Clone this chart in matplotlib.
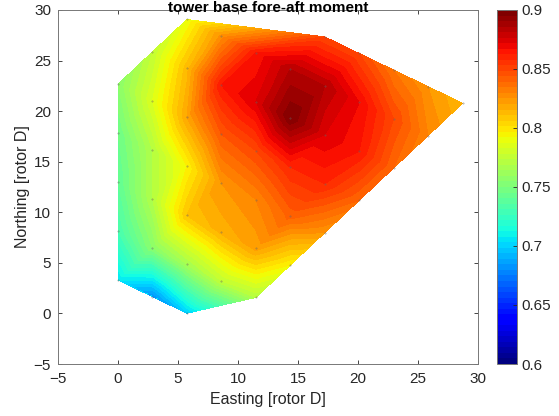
import numpy as np
import matplotlib
matplotlib.use('Agg')
import matplotlib.pyplot as plt
import matplotlib.tri as mtri

plt.rcParams['font.family'] = ['Liberation Sans', 'DejaVu Sans']

# turbine positions (rotor diameters), listed column by column
east = ([0.00] * 5 + [2.87] * 6 + [5.74] * 7 + [8.61] * 6 + [11.48] * 6 +
        [14.35] * 5 + [17.22] * 5 + [20.09] * 4 + [22.96] * 3 + [25.83] * 2 + [28.70])
north = [3.30, 8.14, 12.98, 17.82, 22.66,
         1.66, 6.50, 11.34, 16.18, 21.02, 25.86,
         0.02, 4.86, 9.70, 14.54, 19.38, 24.22, 29.06,
         3.22, 8.06, 12.90, 17.74, 22.58, 27.42,
         1.58, 6.42, 11.26, 16.10, 20.94, 25.78,
         4.78, 9.62, 14.46, 19.30, 24.14,
         7.98, 12.82, 17.66, 22.50, 27.34,
         11.18, 16.02, 20.86, 25.70,
         14.38, 19.22, 24.06,
         17.58, 22.42,
         20.78]
moment = [0.705, 0.730, 0.740, 0.745, 0.755,
          0.680, 0.755, 0.770, 0.770, 0.785, 0.775,
          0.698, 0.765, 0.810, 0.795, 0.820, 0.813, 0.790,
          0.775, 0.817, 0.825, 0.845, 0.865, 0.827,
          0.770, 0.822, 0.830, 0.850, 0.875, 0.865,
          0.795, 0.842, 0.860, 0.900, 0.885,
          0.825, 0.860, 0.875, 0.885, 0.850,
          0.840, 0.865, 0.870, 0.850,
          0.840, 0.850, 0.835,
          0.830, 0.825,
          0.815]

cmin, cmax = 0.6, 0.9
xticks = [-5, 0, 5, 10, 15, 20, 25, 30]
yticks = [-5, 0, 5, 10, 15, 20, 25, 30]
cticks = [0.6, 0.65, 0.7, 0.75, 0.8, 0.85, 0.9]

txt = '#262626'
fig = plt.figure(figsize=(5.59, 4.16), dpi=100)
ax = fig.add_axes([0.1038, 0.125, 0.7515, 0.851])
cax = fig.add_axes([0.889, 0.125, 0.0358, 0.851])

tri = mtri.Triangulation(east, north)
levels = np.linspace(cmin, cmax, 61)
ax.tricontourf(tri, moment, levels=levels, cmap='jet', vmin=cmin, vmax=cmax)
ax.plot(east, north, '.', color='#666666', markersize=0.8, alpha=0.6)

ax.set_xlim(-5, 30)
ax.set_ylim(-5, 30)
ax.set_xticks(xticks)
ax.set_yticks(yticks)
ax.tick_params(direction='in', top=True, right=True, labelsize=11, colors=txt,
               length=3, width=0.6)
ax.tick_params(axis='x', pad=6)
ax.tick_params(axis='y', pad=5)
for s in ax.spines.values():
    s.set_color('#777777')
    s.set_linewidth(0.7)
ax.set_xlabel('Easting [rotor D]', fontsize=11.5, color=txt, labelpad=4)
ax.set_ylabel('Northing [rotor D]', fontsize=11.5, color=txt, labelpad=3)
fig.text(0.4795, 1 - 1 / 416, 'tower base fore-aft moment', ha='center', va='top',
         fontsize=11, fontweight='bold', color='black')

sm = plt.cm.ScalarMappable(norm=plt.Normalize(cmin, cmax),
                           cmap=plt.get_cmap('jet', 64))
cb = fig.colorbar(sm, cax=cax, ticks=cticks)
cb.ax.tick_params(direction='in', labelsize=11, colors=txt, length=3, width=0.6)
cb.ax.set_yticklabels(['0.6', '0.65', '0.7', '0.75', '0.8', '0.85', '0.9'])
cb.outline.set_edgecolor('#777777')
cb.outline.set_linewidth(0.7)

fig.savefig('out.png', dpi=100)
